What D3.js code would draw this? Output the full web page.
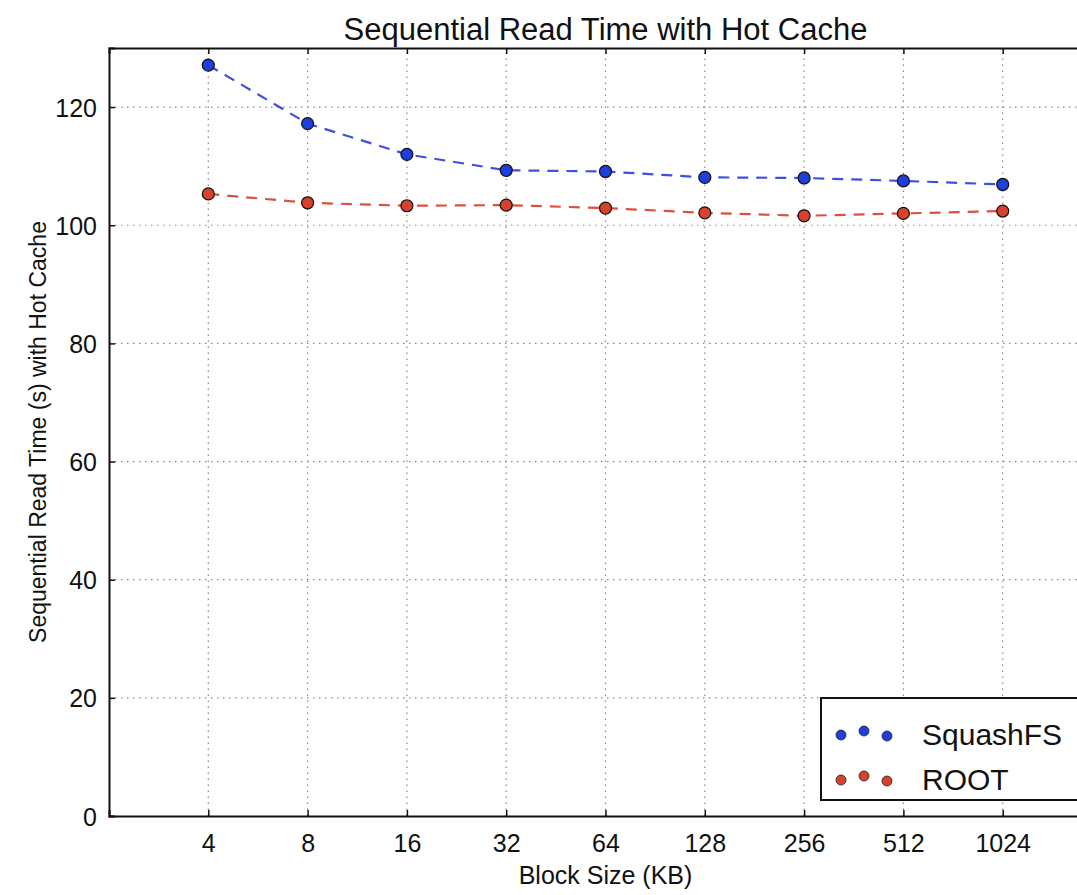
<!DOCTYPE html>
<html>
<head>
<meta charset="utf-8">
<script src="https://cdn.jsdelivr.net/npm/d3@7"></script>
<style>
  body { margin: 0; background: #fff; }
  #chart { width: 1077px; height: 895px; overflow: hidden; }
  svg { overflow: hidden; }
  text { font-family: "Liberation Sans", Arial, Helvetica, sans-serif; fill: #111; }
</style>
</head>
<body>
<div id="chart"></div>
<script>
// block sizes (KB) and read times (s)
var blockSizes = [4, 8, 16, 32, 64, 128, 256, 512, 1024];
var squashfs = [127.1, 117.2, 112.0, 109.3, 109.1, 108.1, 108.0, 107.5, 106.9];
var rootfs = [105.3, 103.8, 103.3, 103.4, 102.9, 102.1, 101.6, 102.0, 102.4];
var yTicks = [0, 20, 40, 60, 80, 100, 120];
var seriesNames = ["SquashFS", "ROOT"];

var width = 1077;
var height = 895;
var margin = {top: 48, left: 109, bottom: 816};

var svg = d3.select("#chart")
    .append("svg")
    .attr("width", width)
    .attr("height", height);

var xScale = d3.scaleLog()
    .base(2)
    .domain([2, 2048])
    .range([margin.left, 1102]);

var yScale = d3.scaleLinear()
    .domain([0, 130])
    .range([margin.bottom, margin.top]);

var series = [
    {name: seriesNames[0], values: squashfs, fill: "#1f3fdc", line: "#3f4fe0"},
    {name: seriesNames[1], values: rootfs, fill: "#d8412c", line: "#dd5040"}
];

// grid
svg.append("g")
    .selectAll("line")
    .data(blockSizes)
    .enter()
    .append("line")
        .attr("x1", function(d) { return xScale(d); })
        .attr("x2", function(d) { return xScale(d); })
        .attr("y1", yScale(0))
        .attr("y2", yScale(130))
        .attr("stroke", "#888")
        .attr("stroke-width", 1.2)
        .attr("stroke-dasharray", "1.5,4.5");

svg.append("g")
    .selectAll("line")
    .data(yTicks.slice(1))
    .enter()
    .append("line")
        .attr("x1", xScale(2))
        .attr("x2", xScale(2048))
        .attr("y1", function(d) { return yScale(d); })
        .attr("y2", function(d) { return yScale(d); })
        .attr("stroke", "#888")
        .attr("stroke-width", 1.2)
        .attr("stroke-dasharray", "1.5,4.5");

// axes (ticks point inward)
var xAxis = svg.append("g")
    .attr("transform", `translate(0,${yScale(0)})`)
    .call(d3.axisBottom(xScale).tickValues(blockSizes).tickFormat(d3.format("d")).tickSize(-6).tickPadding(18));

var xTop = svg.append("g")
    .attr("transform", `translate(0,${yScale(130)})`)
    .call(d3.axisTop(xScale).tickValues(blockSizes).tickFormat("").tickSize(-6));

var yAxis = svg.append("g")
    .attr("transform", `translate(${xScale(2)},0)`)
    .call(d3.axisLeft(yScale).tickValues(yTicks).tickSize(-6).tickPadding(12));

[xAxis, xTop, yAxis].forEach(function(a) {
    a.select(".domain").attr("stroke", "#111").attr("stroke-width", 2);
    a.selectAll(".tick line").attr("stroke", "#111").attr("stroke-width", 1.5);
    a.selectAll(".tick text")
        .style("font-family", "'Liberation Sans', Arial, sans-serif")
        .style("font-size", "25px")
        .attr("fill", "#111");
});
yAxis.selectAll(".tick text").attr("dy", "0.36em");

// lines and points
var line = d3.line()
    .x(function(d, i) { return xScale(blockSizes[i]); })
    .y(function(d) { return yScale(d); });

series.forEach(function(s) {
    svg.append("path")
        .datum(s.values)
        .attr("d", line)
        .attr("fill", "none")
        .attr("stroke", s.line)
        .attr("stroke-width", 2.2)
        .attr("stroke-dasharray", "11,8");

    svg.append("g")
        .selectAll("circle")
        .data(s.values)
        .enter()
        .append("circle")
            .attr("cx", function(d, i) { return xScale(blockSizes[i]); })
            .attr("cy", function(d) { return yScale(d); })
            .attr("r", 6)
            .attr("fill", s.fill)
            .attr("stroke", "#111")
            .attr("stroke-width", 1.2);
});

// title and axis labels
svg.append("text")
    .attr("x", (xScale(2) + xScale(2048)) / 2)
    .attr("y", 40)
    .attr("text-anchor", "middle")
    .style("font-size", "31px")
    .text("Sequential Read Time with Hot Cache");

svg.append("text")
    .attr("x", (xScale(2) + xScale(2048)) / 2)
    .attr("y", 884)
    .attr("text-anchor", "middle")
    .style("font-size", "25px")
    .text("Block Size (KB)");

svg.append("text")
    .attr("transform", "rotate(-90)")
    .attr("x", -(yScale(0) + yScale(130)) / 2)
    .attr("y", 46)
    .attr("text-anchor", "middle")
    .style("font-size", "23px")
    .text("Sequential Read Time (s) with Hot Cache");

// legend
var legend = svg.append("g");
legend.append("rect")
    .attr("x", 821)
    .attr("y", 698)
    .attr("width", 300)
    .attr("height", 102)
    .attr("fill", "#fff")
    .attr("stroke", "#111")
    .attr("stroke-width", 2);

var dotOffsets = [[841, 0], [864, -4], [887, 1]];
series.forEach(function(s, i) {
    var cy = 735 + i * 45;
    legend.selectAll(".dot" + i)
        .data(dotOffsets)
        .enter()
        .append("circle")
            .attr("cx", function(d) { return d[0]; })
            .attr("cy", function(d) { return cy + d[1]; })
            .attr("r", 5)
            .attr("fill", s.fill)
            .attr("stroke", "#222")
            .attr("stroke-width", 0.8);
    legend.append("text")
        .attr("x", 922)
        .attr("y", cy + 10)
        .style("font-size", "30px")
        .text(s.name);
});
</script>
</body>
</html>
